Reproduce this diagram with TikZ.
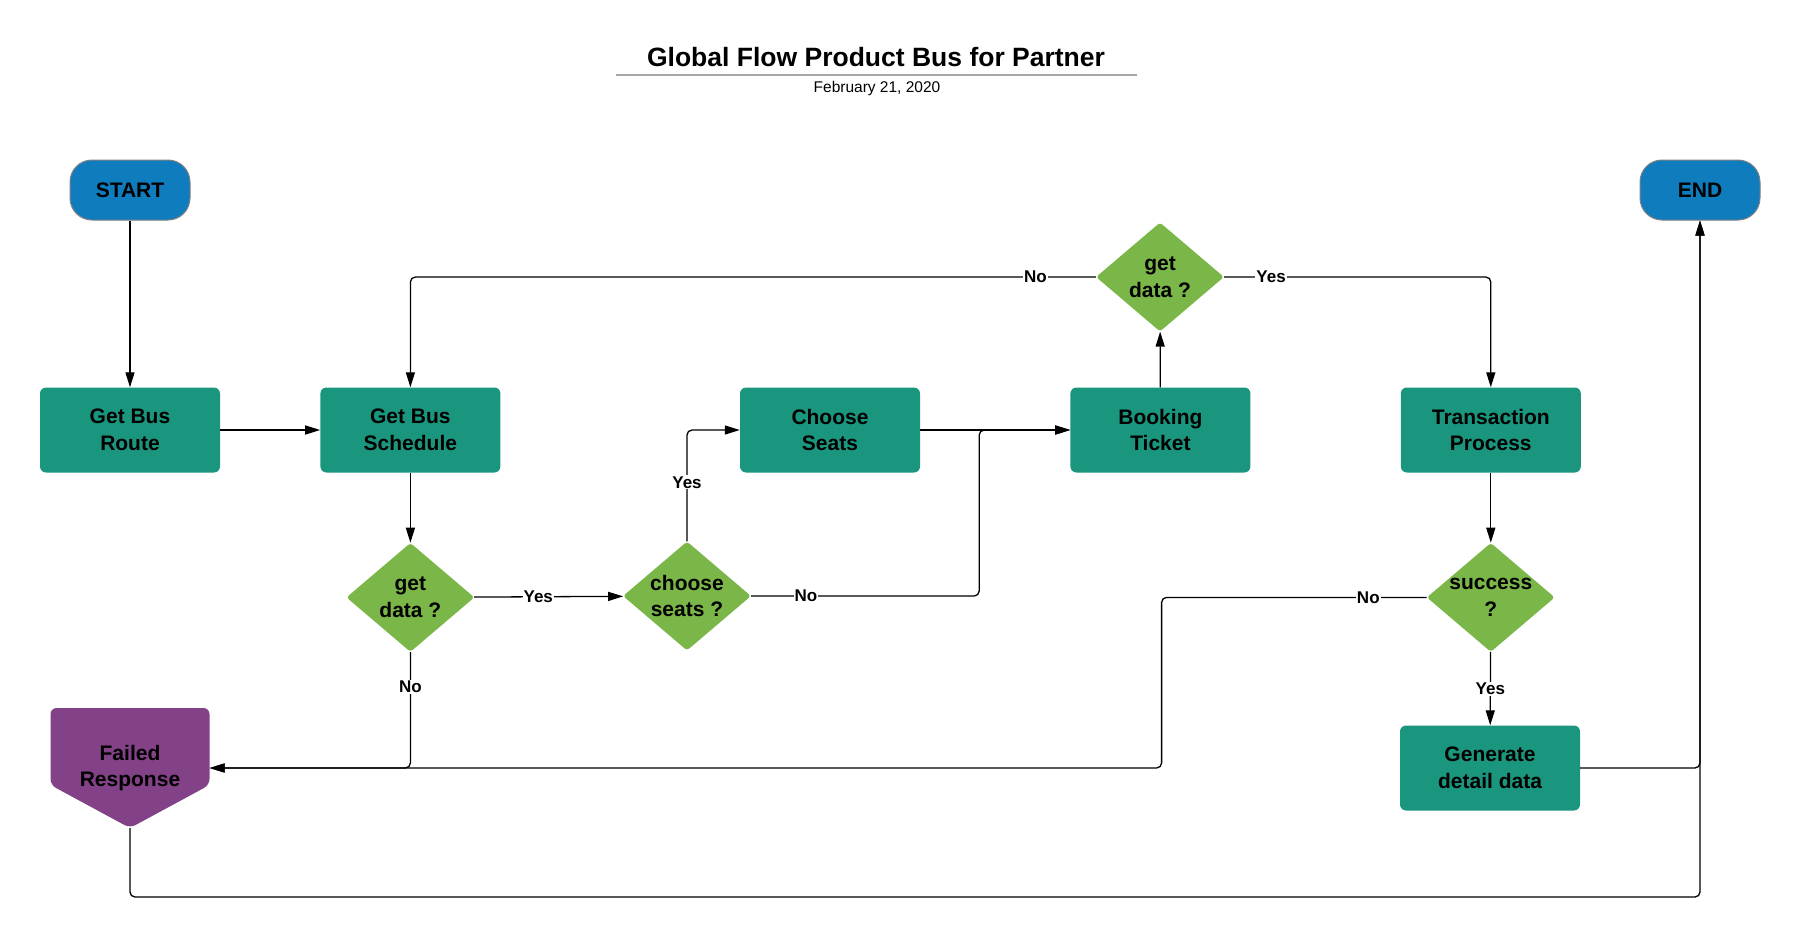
\documentclass[tikz,border=0pt]{standalone}
\usepackage{fontspec}
\setmainfont{Liberation Sans}
\usetikzlibrary{positioning,shapes.geometric,arrows.meta}

\definecolor{termblue}{HTML}{0E7CBD}
\definecolor{boxteal}{HTML}{1A967E}
\definecolor{askgreen}{HTML}{7AB648}
\definecolor{failpurple}{HTML}{834187}
\newcommand{\boxfont}{\bfseries\fontsize{21}{26.5}\selectfont}

\begin{document}
\begin{tikzpicture}[x=1pt,y=-1pt,
    >={Triangle[length=15pt,width=9pt]},
    terminal/.style={fill=termblue, draw=gray, line width=1pt, rounded corners=22pt,
        minimum width=120pt, minimum height=60pt, font=\boxfont},
    process/.style={fill=boxteal, rounded corners=6pt, minimum width=180pt,
        minimum height=85pt, align=center, font=\boxfont},
    decision/.style={diamond, fill=askgreen, rounded corners=3pt, minimum width=128pt,
        minimum height=109pt, inner sep=0pt},
    ask/.style={align=center, font=\boxfont},
    answer/.style={fill=white, inner sep=1pt, rounded corners=0pt,
        font=\bfseries\fontsize{17}{20}\selectfont},
    flow/.style={line width=1.3pt, rounded corners=5pt}]
    \useasboundingbox (0,0) rectangle (1800,938);
    %%%%% TITLE
    \node[font=\bfseries\fontsize{26.5}{30}\selectfont] (title) at (876,57) {Global Flow Product Bus for Partner};
    \draw[gray!70, line width=2pt] (616,75) -- (1137,75);
    \node[font=\fontsize{15.5}{18}\selectfont] (date) at (877,88) {February 21, 2020};
    %%%%% THE NODES
    \node[terminal] (start) at (130,190) {START};
    \node[terminal] (end) at (1700,190) {END};
    \node[process] (route) at (130,430) {Get Bus\\Route};
    \node[process, right=100pt of route] (sched) {Get Bus\\Schedule};
    \node[process] (seats) at (830,430) {Choose\\Seats};
    \node[process, right=150pt of seats] (book) {Booking\\Ticket};
    \node[process, right=150pt of book] (trans) {Transaction\\Process};
    \node[decision, below=70pt of sched, label={[ask]center:get\\data ?}] (getdata) {};
    \node[decision, label={[ask]center:choose\\seats ?}] (choose) at (687,596) {};
    \node[decision, label={[ask]center:get\\data ?}] (topdata) at (1160,277) {};
    \node[decision, below=70pt of trans, label={[ask]center:success\\?}] (success) {};
    \node[process] (gen) at (1490,768) {Generate\\detail data};
    % failed response box
    \fill[failpurple, rounded corners=6pt] (50.5,708) -- (209.5,708) -- (209.5,785)
        -- (130,828) -- (50.5,785) -- cycle;
    \node[ask, minimum width=159pt, inner sep=0pt] (fail) at (130,768) {Failed\\Response};
    \coordinate (failtip) at (130,828);
    %%%%% THE LINKS
    \draw[flow,->] (start) -- (route);
    \draw[flow,->] (route) -- (sched);
    \draw[flow,->] (sched) -- (getdata);
    \draw[flow,->] (getdata) -- node[answer, pos=0.43] {Yes} (choose);
    \draw[flow,->] (choose.north) |- node[answer, pos=0.265] {Yes} (seats.west);
    \draw[flow,->] (seats) -- (book);
    \draw[flow,->] (choose.east) -- node[answer, pos=0.24] {No} ++(228,0) |- (book.west);
    \draw[flow,->] (book) -- (topdata);
    \draw[flow,->] (topdata.west) -| node[answer, pos=0.044] {No} (sched.north);
    \draw[flow,->] (topdata.east) -| node[answer, pos=0.088] {Yes} (trans.north);
    \draw[flow,->] (trans) -- (success);
    \draw[flow,->] (success) -- node[answer] {Yes} (gen);
    \draw[flow,->] (getdata.south) |- node[answer, pos=0.15] {No} (fail.east);
    \draw[flow,->] (success.west) -- node[answer, pos=0.22] {No} ++(-265,0) |- (fail.east);
    \draw[flow,->] (gen.east) -| (end.south);
    \draw[flow,->] (failtip) -- ++(0,69) -| (end.south);
\end{tikzpicture}
\end{document}
